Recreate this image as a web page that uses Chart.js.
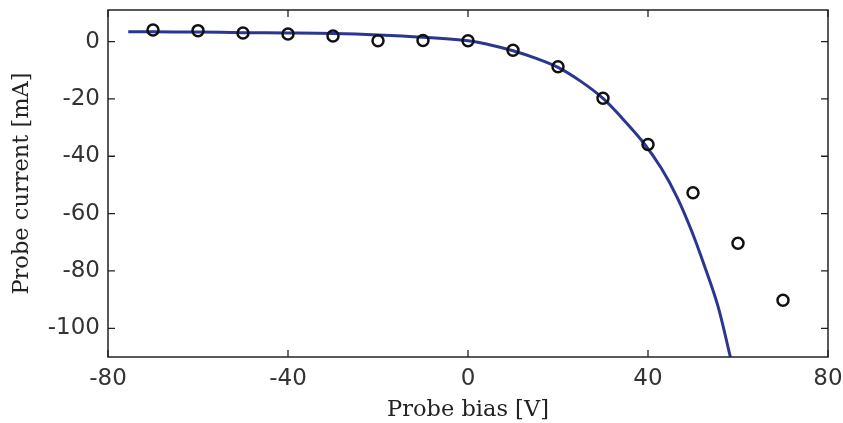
<!DOCTYPE html>
<html><head><meta charset="utf-8">
<script src="https://cdn.jsdelivr.net/npm/chart.js@4/dist/chart.umd.min.js"></script>
<style>html,body{margin:0;padding:0;background:#fff;overflow:hidden}#wrap{width:843px;height:423px;position:relative}</style>
</head><body><div id="wrap"><canvas id="c" width="843" height="423"></canvas></div>
<script>
const measuredBias = [-70, -60, -50, -40, -30, -20, -10, 0, 10, 20, 30, 40, 50, 60, 70];
const measuredCurrent = [4.0, 3.8, 3.0, 2.6, 1.9, 0.3, 0.4, 0.3, -3.0, -8.8, -19.8, -35.9, -52.7, -70.3, -90.2];
const fitBias = [-75.5, -70, -60, -50, -40, -30, -20, -10, 0, 5, 10, 15, 20, 25, 30, 34, 39, 43, 46.5, 49.5, 52.5, 55.5, 58.3];
const fitCurrent = [3.4, 3.4, 3.3, 3.1, 3.0, 2.8, 2.3, 1.5, 0.3, -1.2, -3.2, -5.8, -9.0, -13.8, -19.8, -26.3, -35.3, -44.3, -54.4, -65.3, -78.0, -92.0, -110.0];
const xTicks = [-80, -40, 0, 40, 80];
const yTicks = [-100, -80, -60, -40, -20, 0];

const tickFont = {family: '"DejaVu Sans", sans-serif', size: 23, weight: 'normal'};
const titleFont = {family: '"DejaVu Serif", serif', size: 22.5, lineHeight: 1.2};

const frame = {
  id: 'frame',
  afterDraw(chart) {
    const {ctx, chartArea: a, scales: {x, y}} = chart;
    ctx.save();
    ctx.strokeStyle = '#222';
    ctx.lineWidth = 1.5;
    ctx.strokeRect(a.left, a.top, a.right - a.left, a.bottom - a.top);
    ctx.lineWidth = 1.3;
    const L = 7;
    ctx.beginPath();
    x.ticks.forEach(t => {
      const p = x.getPixelForValue(t.value);
      ctx.moveTo(p, a.bottom); ctx.lineTo(p, a.bottom - L);
      ctx.moveTo(p, a.top); ctx.lineTo(p, a.top + L);
    });
    y.ticks.forEach(t => {
      const p = y.getPixelForValue(t.value);
      ctx.moveTo(a.left, p); ctx.lineTo(a.left + L, p);
      ctx.moveTo(a.right, p); ctx.lineTo(a.right - L, p);
    });
    ctx.stroke();
    ctx.restore();
  }
};

new Chart(document.getElementById('c'), {
  type: 'scatter',
  data: {
    datasets: [
      {
        type: 'line',
        label: 'fit',
        data: fitBias.map((v, i) => ({x: v, y: fitCurrent[i]})),
        borderColor: '#2b3690',
        borderWidth: 3,
        pointRadius: 0,
        tension: 0.35,
        fill: false,
        order: 2
      },
      {
        label: 'measured',
        data: measuredBias.map((v, i) => ({x: v, y: measuredCurrent[i]})),
        pointStyle: 'circle',
        pointRadius: 5.5,
        pointBorderWidth: 2.5,
        pointBorderColor: '#111',
        pointBackgroundColor: 'rgba(255,255,255,0)',
        showLine: false,
        order: 1
      }
    ]
  },
  options: {
    responsive: false,
    animation: false,
    devicePixelRatio: 1,
    layout: {padding: {left: 0, right: 15, top: 10, bottom: 0}},
    plugins: {legend: {display: false}, tooltip: {enabled: false}},
    scales: {
      x: {
        type: 'linear', min: -80, max: 80,
        afterBuildTicks: s => { s.ticks = xTicks.map(v => ({value: v})); },
        afterFit: s => { s.height = 66; s.paddingLeft = 0; s.paddingRight = 0; },
        grid: {display: false, drawTicks: false},
        border: {display: false},
        ticks: {font: tickFont, color: '#333', padding: 8, maxRotation: 0},
        title: {display: true, text: 'Probe bias [V]', font: titleFont, color: '#222', padding: {top: 0, bottom: -1}}
      },
      y: {
        type: 'linear', min: -110, max: 11,
        afterBuildTicks: s => { s.ticks = yTicks.map(v => ({value: v})); },
        afterFit: s => { s.width = 108; s.paddingTop = 0; s.paddingBottom = 0; },
        grid: {display: false, drawTicks: false},
        border: {display: false},
        ticks: {font: tickFont, color: '#333', padding: 8},
        title: {display: true, text: 'Probe current [mA]', font: titleFont, color: '#222', padding: {top: 9, bottom: 0}}
      }
    }
  },
  plugins: [frame]
});
</script>
</body></html>
